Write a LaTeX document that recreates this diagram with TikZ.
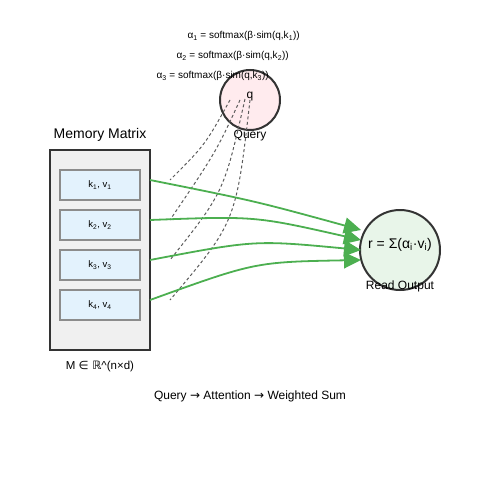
\documentclass[tikz,border=0pt]{standalone}
\usepackage{fontspec}
\setmainfont{Liberation Sans}
\newfontfamily\symfont{DejaVu Sans}
\usetikzlibrary{arrows.meta,positioning}
\definecolor{boxgray}{HTML}{F0F0F0}
\definecolor{slotblue}{HTML}{E3F2FD}
\definecolor{qpink}{HTML}{FFEBEE}
\definecolor{rgreen}{HTML}{E8F5E9}
\definecolor{arrgreen}{HTML}{4CAF50}
\definecolor{edge}{HTML}{333333}
\newcommand{\sub}[1]{\textsubscript{#1}}
\tikzset{
  slot/.style={draw=gray!90,line width=1.6pt,fill=slotblue,minimum width=80pt,minimum height=30pt,inner sep=0pt,font=\fontsize{9.5}{10}\selectfont},
  attn/.style={dashed,dash pattern=on 3pt off 2.5pt,edge!80,line width=1pt},
  readarr/.style={arrgreen,line width=1.8pt,-{Triangle[length=17pt,width=16pt]}},
  formula/.style={font=\fontsize{10}{11}\selectfont}
}
\begin{document}
\begin{tikzpicture}[x=1pt,y=-1pt]
\useasboundingbox (0,0) rectangle (500,500);

% --- Memory Matrix ---
\node[draw=edge,line width=2pt,fill=boxgray,minimum width=100pt,minimum height=200pt,inner sep=0pt] (mem) at (100,250) {};
\node[font=\fontsize{14}{16}\selectfont] (memtitle) at (100,135) {Memory Matrix};
\node[font=\fontsize{11.5}{13}\selectfont] (memdim) at (100,366) {M {\symfont ∈ ℝ}\^{}(n×d)};

\foreach \i/\y in {1/185,2/225,3/265,4/305}
  \node[slot] (slot\i) at (100,\y) {k\sub{\i}, v\sub{\i}};

% --- Query ---
\node[circle,draw=edge,line width=2pt,fill=qpink,minimum size=60pt,inner sep=0pt] (query) at (250,100) {};
\node[font=\fontsize{12}{14}\selectfont] (qlabel) at (250,97) {q};
\node[font=\fontsize{12}{14}\selectfont] (qname) at (250,136) {Query};

% --- Read Output ---
\node[circle,draw=edge,line width=2pt,fill=rgreen,minimum size=80pt,inner sep=0pt] (read) at (400,250) {};
\node[font=\fontsize{14}{16}\selectfont] (rlabel) at (400,245) {r = Σ(α\sub{i}·v\sub{i})};
\node[font=\fontsize{12}{14}\selectfont] (rname) at (400,286) {Read Output};

% --- Attenzione (tratteggiate) ---
\coordinate (q1) at (230,100);
\coordinate (q2) at (240,100);
\coordinate (q3) at (245,99);
\coordinate (q4) at (250,100);
\foreach \i/\y in {1/180,2/220,3/260,4/300}
  \coordinate (a\i) at (170,\y);
\draw[attn] (q1) .. controls (205,145) .. (a1);
\draw[attn] (q2) .. controls (216,152) .. (a2);
\draw[attn] (q3) .. controls (224,192) .. (a3);
\draw[attn] (q4) .. controls (236,222) .. (a4);

% --- Lettura (verdi) ---
\foreach \i/\y in {1/180,2/220,3/260,4/300}
  \coordinate (m\i) at (150,\y);
\foreach \i/\y in {1/230,2/240,3/250,4/260}
  \coordinate (r\i) at (361,\y);
\draw[readarr] (m1) .. controls (255,201) .. (r1);
\draw[readarr] (m2) .. controls (255,216) .. (r2);
\draw[readarr] (m3) .. controls (255,240) .. (r3);
\draw[readarr] (m4) .. controls (255,262) .. (r4);

% --- Formule ---
\node[formula,anchor=west] (f1) at (184,36) {α\sub{1} = softmax(β·sim(q,k\sub{1}))};
\node[formula,anchor=west] (f2) at (173,56) {α\sub{2} = softmax(β·sim(q,k\sub{2}))};
\node[formula,anchor=west] (f3) at (153,76) {α\sub{3} = softmax(β·sim(q,k\sub{3}))};

\node[font=\fontsize{12}{14}\selectfont] (flow) at (250,396) {Query {\symfont →} Attention {\symfont →} Weighted Sum};

\end{tikzpicture}
\end{document}
